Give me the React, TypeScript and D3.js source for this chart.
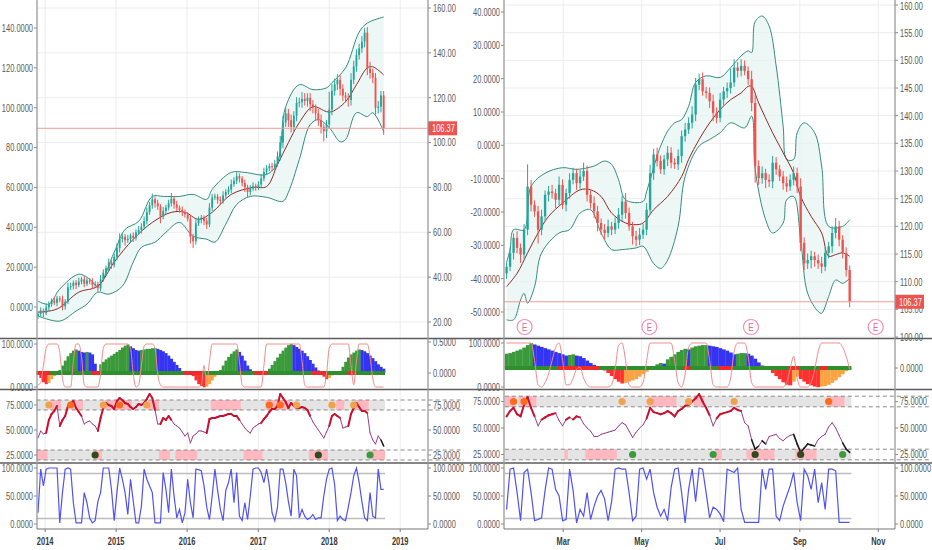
import { useEffect, useRef } from 'react';
import * as d3 from 'd3';

const DAY = 86400000;
const parse = d3.timeParse('%Y-%m-%d');

// ---------------- left chart: two-week candles, Nov 2013 - Oct 2018 ----------------
const leftDomain = ['2013-11-20', '2019-05-24'];
const leftStart = '2013-11-25';
const leftStepDays = 14;
const leftYears = ['2014-01-01', '2015-01-01', '2016-01-01', '2017-01-01', '2018-01-01', '2019-01-01'];
const leftOpen0 = 22.8;
const leftClose = [
  23.6, 25, 24, 26.5, 28, 29.5, 28.5, 30.5, 30, 27,
  29, 35.5, 36, 37.5, 36.5, 38, 39, 37, 38.5, 38,
  36.5, 37, 35, 39, 42, 44, 46.5, 45.5, 49, 53,
  57, 58, 56.5, 57, 58.5, 57.5, 60, 61, 62.5, 65,
  69, 72, 74.7, 73, 71.5, 67, 69.5, 71, 73, 75,
  72.5, 71, 70, 69, 68, 66, 58, 56, 64, 65.5,
  66.5, 65, 63.5, 71, 75.5, 76, 74.5, 74, 76.5, 78,
  79, 81.5, 83, 85, 84, 82, 80, 78, 79.5, 80.5,
  80, 81.3, 84, 87, 88.5, 89.5, 89, 90.5, 94, 100,
  109, 113, 110, 107, 112, 117.7, 118, 119.5, 118.5, 120,
  117, 115.5, 113, 110, 107, 105, 108, 114.7, 123, 126,
  128, 124, 121, 120, 119, 128, 134, 139, 142, 145,
  149, 133, 131, 129, 115.5, 116, 121, 106.37,
];
const leftHiWick = [
  1.2, 1.5, 1, 1.8, 1.2, 1, 1.5, 1.2, 1, 1.8,
  1.2, 2, 1.5, 1, 1.2, 1.8, 1, 1.5, 1.2, 1,
  1.5, 1.2, 1, 2, 1.5, 1.2, 1.8, 1, 1.5, 2,
  2.5, 1.5, 1.2, 1.8, 1, 1.5, 1.2, 1.8, 1.5, 2,
  2, 1.5, 2.5, 1.2, 1.5, 1, 1.8, 1.2, 1.5, 2.5,
  1.2, 1.5, 1, 1.5, 1.2, 1, 1.5, 1.2, 1.8, 1.5,
  1.2, 1, 1.5, 2, 1.5, 1.2, 1, 1.5, 1.8, 1.2,
  1.5, 2, 1.5, 1.8, 1.2, 1, 1.5, 1.2, 1.5, 1.8,
  1.2, 1.5, 2, 1.8, 1.5, 1.2, 1.5, 1.8, 2, 3,
  3, 2.5, 2, 2.5, 2, 2.5, 2, 3, 2.5, 2,
  2, 2, 1.5, 2, 2.5, 1.5, 2, 8, 3, 2.5,
  2.5, 2, 2, 1.5, 2, 3, 2.5, 2.5, 2, 2.5,
  2, 2.5, 3, 2, 2, 2.5, 2, 2,
];
const leftLoWick = [
  1.5, 1.2, 1.8, 1, 1.5, 1.2, 1, 1.5, 1.2, 1.8,
  1.5, 1, 1.2, 1.5, 1.8, 1, 1.2, 1.5, 1, 1.2,
  1.8, 1, 1.5, 1.2, 1, 1.5, 1.2, 1.8, 1.2, 1.5,
  2, 1.5, 2.5, 1.2, 1.5, 1.8, 1.2, 1, 1.5, 1.2,
  1.5, 1.2, 1.5, 2, 1.5, 3, 1.2, 1.5, 1.2, 1.5,
  2, 1.5, 1.2, 1.8, 1.5, 1.2, 3, 3, 1.5, 1.2,
  1.5, 1.8, 2, 1.2, 1.5, 1.2, 1.8, 1.5, 1.2, 1.5,
  1.2, 1.5, 1.2, 1.5, 1.8, 1.5, 2, 2.5, 1.5, 1.2,
  1.5, 1.2, 1.5, 1.2, 1.5, 1.2, 1.8, 1.5, 1.2, 2,
  2.5, 2, 3, 2.5, 2, 2.5, 2, 2.5, 2, 2.5,
  3, 2.5, 3, 2.5, 3, 4.5, 3, 2, 2.5, 2,
  2.5, 3, 2.5, 2, 3, 2.5, 2, 2.5, 2, 2,
  2.5, 3, 2.5, 2.5, 3, 2.5, 2.5, 3,
];
// bollinger bands as [candle index, price]
const leftUpper = [
  [0, 29.3], [4, 28], [8, 34.7], [15, 41.3], [19, 39.1], [22, 36], [28, 51.1], [32, 61.3],
  [37, 64.9], [42, 76], [46, 76], [52, 76], [57, 76.9], [62, 74.7], [64, 79.1], [71, 86.7],
  [76, 86.7], [84, 85.8], [88, 91.1], [91, 116], [96, 125.8], [101, 123.6], [106, 124.4],
  [108, 126.7], [113, 133.3], [118, 149.3], [121, 153.3], [127, 156],
];
const leftMid = [
  [0, 24.4], [7, 25.8], [15, 33.3], [22, 36], [28, 46.7], [35, 56.9], [42, 64.4], [49, 68.9],
  [54, 68.9], [59, 65.8], [64, 68.9], [71, 76.9], [79, 80], [84, 80.4], [88, 90.2], [92, 100],
  [96, 108.9], [101, 116], [106, 113.8], [108, 113.8], [113, 118.2], [117, 125.8], [121, 133.3],
  [123, 133.8], [127, 130.2],
];
const leftLower = [
  [0, 22.7], [8, 20.4], [14, 24.9], [18, 28], [22, 33.3], [26, 32.4], [31, 36], [35, 46.7],
  [38, 53.3], [43, 55.6], [47, 60], [52, 64.4], [57, 58.2], [62, 56.9], [65, 55.6], [69, 63.6],
  [73, 72.4], [78, 76], [84, 75.6], [90, 73.8], [92, 77.8], [96, 92.4], [100, 108], [103, 110.2],
  [107, 106.7], [111, 100.4], [113, 101.3], [117, 113.3], [121, 111.6], [123, 113.3], [127, 104.9],
];
const leftHist = [
  -0.02, -0.08, -0.15, -0.18, -0.16, -0.1, -0.05, 0, 0.05, 0.12,
  0.2, 0.27, 0.32, 0.36, 0.38, 0.36, 0.34, 0.33, 0.34, 0.33,
  0.3, 0.15, -0.02, 0.14, 0.18, 0.22, 0.25, 0.28, 0.31, 0.34,
  0.37, 0.41, 0.44, 0.46, 0.43, 0.4, 0.37, 0.36, 0.37, 0.38,
  0.39, 0.39, 0.4, 0.4, 0.39, 0.37, 0.35, 0.32, 0.28, 0.23,
  0.18, 0.13, 0.08, 0.03, -0.02, -0.03, -0.03, -0.05, -0.12, -0.18,
  -0.21, -0.23, -0.22, -0.18, -0.12, -0.06, -0.02, 0.05, 0.12, 0.2,
  0.26, 0.31, 0.35, 0.38, 0.34, 0.28, 0.2, 0.12, 0.06, 0.02,
  -0.02, -0.03, -0.03, -0.02, 0.03, 0.07, 0.13, 0.19, 0.25, 0.31,
  0.36, 0.41, 0.45, 0.47, 0.45, 0.42, 0.39, 0.36, 0.32, 0.27,
  0.21, 0.15, 0.09, 0.04, -0.02, -0.06, -0.1, -0.08, -0.04, -0.02,
  -0.02, 0.03, 0.1, 0.18, 0.25, 0.3, 0.33, 0.36, 0.38, 0.37,
  0.35, 0.32, 0.28, 0.24, 0.19, 0.14, 0.1, 0.07,
];
const leftOsc = [
  5, 10, 50, 90, 100, 100, 100, 100, 80, 20,
  0, 0, 0, 60, 100, 100, 70, 5, 0, 0,
  0, 0, 0, 30, 90, 100, 100, 100, 100, 100,
  100, 100, 100, 100, 90, 30, 0, 5, 50, 95,
  100, 100, 100, 90, 30, 5, 0, 0, 0, 0,
  0, 0, 0, 0, 0, 0, 0, 0, 0, 0,
  5, 50, 10, 60, 100, 100, 100, 100, 100, 100,
  100, 100, 100, 100, 60, 5, 0, 0, 0, 0,
  0, 0, 0, 50, 100, 100, 100, 100, 100, 100,
  100, 100, 100, 100, 100, 100, 100, 60, 5, 0,
  0, 0, 0, 0, 0, 0, 30, 90, 100, 100,
  100, 100, 100, 100, 100, 50, 5, 60, 100, 100,
  100, 100, 70, 20, 0, 0, 0, 0,
];
const leftSqueeze = [[0, 4], [20, 22], [54, 60], [80, 84], [101, 105], [114, 116]];
const leftRsi = [
  42, 49, 46, 47, 60, 66, 69, 74, 54, 60,
  64, 74, 77, 79, 72, 68, 64, 56, 58, 59,
  56, 54, 49, 62, 72, 77, 75, 74, 71, 79,
  82, 80, 77, 76, 73, 71, 73, 76, 75, 77,
  81, 86, 82, 70, 56, 56, 62, 60, 64, 60,
  56, 54, 52, 48, 44, 47, 37, 44, 46, 49,
  49, 48, 47, 61, 62, 62, 63, 64, 64, 65,
  66, 66, 64, 64, 60, 56, 52, 49, 47, 52,
  54, 56, 57, 61, 64, 68, 71, 71, 74, 86,
  82, 78, 72, 77, 74, 72, 72, 73, 72, 70,
  64, 58, 54, 50, 46, 42, 48, 54, 64, 66,
  64, 62, 52, 53, 54, 66, 72, 77, 73, 69,
  69, 67, 47, 40, 36, 44, 40, 34,
];
const leftRsiHigh = [[5, 8], [13, 16], [25, 34], [41, 44], [64, 74], [84, 92], [110, 112], [117, 121]];
const leftRsiLow = [[0, 3], [21, 23], [45, 48], [51, 58], [76, 82], [100, 106], [123, 127]];
const leftDotsHigh: [number, string][] = [[4, 'o'], [12, 'O'], [24, 'o'], [30, 'O'], [40, 'o'], [85, 'O'], [89, 'O'], [95, 'o'], [108, 'o'], [116, 'o']];
const leftDotsLow: [number, string][] = [[21, 'G'], [103, 'G'], [122, 'g']];
const leftStoch = [
  20, 98, 68, 98, 100, 100, 100, 100, 2, 56,
  98, 100, 98, 38, 2, 2, 2, 56, 38, 10,
  2, 6, 40, 56, 100, 100, 100, 62, 6, 56,
  100, 80, 56, 17, 80, 41, 2, 2, 32, 98,
  80, 68, 56, 2, 2, 2, 92, 62, 20, 98,
  50, 11, 26, 2, 20, 80, 38, 11, 98, 97,
  95, 68, 30, 8, 50, 98, 60, 26, 6, 60,
  74, 98, 38, 92, 14, 6, 38, 8, 50, 98,
  100, 100, 92, 74, 98, 68, 20, 6, 30, 98,
  98, 74, 40, 14, 98, 86, 11, 26, 14, 8,
  11, 17, 8, 11, 11, 50, 80, 98, 100, 70,
  6, 14, 8, 6, 30, 56, 86, 100, 74, 40,
  11, 6, 56, 14, 11, 98, 62, 62,
];
const leftPriceTicks = [20, 40, 60, 80, 100, 120, 140, 160];
const leftBaseTicks = [0, 20, 40, 60, 80, 100, 120, 140];

// ---------------- right chart: Jan - Oct 2018 ----------------
const rightDomain = ['2018-01-14', '2018-11-14'];
const rightStart = '2018-01-16';
const rightStepDays = 2.722;
const rightMonths = ['2018-03-01', '2018-05-01', '2018-07-01', '2018-09-01', '2018-11-01'];
const rightEarnings = ['2018-01-30', '2018-05-07', '2018-07-25', '2018-10-30'];
const rightOpen0 = 111.5;
const rightClose = [
  112.7, 115.2, 117.9, 116.1, 114.9, 119.4, 127.2, 123.9, 122.7, 119.4,
  121.8, 125.7, 126.3, 126, 124.8, 127.5, 123.9, 126, 128.4, 129.6,
  127.8, 129, 130, 125.7, 124.2, 122.7, 120.6, 119.4, 118.8, 120,
  119.4, 120.6, 122.1, 124.5, 122.4, 120, 118.2, 117.6, 118.5, 119.4,
  123, 129.6, 133, 131.8, 130.3, 132.1, 133.3, 131.5, 131.2, 132.7,
  136.3, 137.5, 138.7, 140.2, 145.6, 146.6, 144.4, 144.1, 142.6, 140.5,
  139.6, 142.9, 144.4, 145, 146, 148.7, 148.1, 149, 148.1, 146.6,
  142.3, 130.9, 128.7, 129.6, 128.4, 128.1, 131.5, 130.3, 129, 127.8,
  127.2, 128.4, 129.6, 127.2, 117, 113.3, 113.9, 114.6, 113.9, 113.3,
  112.7, 115.2, 116.4, 118.8, 120, 117.6, 115.2, 112.1, 106.37,
];
const rightHiWick = [
  0.8, 1, 0.8, 1.2, 0.8, 1, 4, 1.2, 0.8, 1,
  1.2, 0.8, 1, 1.2, 0.8, 1.5, 1, 0.8, 1.2, 1,
  0.8, 1.2, 1.5, 1, 0.8, 1.2, 1, 0.8, 1, 1.2,
  0.8, 1, 1.2, 1, 1.5, 1, 0.8, 1, 1.2, 1,
  1.2, 1.5, 1, 1.2, 1, 0.8, 1.2, 1, 0.8, 1.2,
  1, 1.2, 1, 1.5, 1.2, 1, 1.2, 0.8, 1, 1.2,
  1, 1.2, 0.8, 1, 2.5, 1.5, 1, 1.2, 1, 0.8,
  1.5, 1.5, 1, 1.2, 0.8, 1, 1.2, 1, 0.8, 1,
  1.2, 1, 1.2, 1, 1.5, 1, 1.2, 1, 0.8, 1,
  1.2, 1, 0.8, 1.2, 1.5, 1, 0.8, 1, 0.8,
];
const rightLoWick = [
  1, 0.8, 1.2, 1, 1.5, 0.8, 1, 1.2, 1, 2.5,
  1, 0.8, 1.2, 1, 1.5, 1, 0.8, 1.2, 1, 0.8,
  1.2, 1, 0.8, 1.2, 1, 1.2, 1.5, 1, 1.2, 0.8,
  1, 0.8, 1, 1.2, 1, 0.8, 1.5, 1.2, 1, 0.8,
  1, 0.8, 1.2, 1, 0.8, 1, 1.2, 1, 0.8, 1,
  1.2, 1, 0.8, 1, 1.2, 1, 0.8, 1, 1.2, 1.5,
  1, 0.8, 1, 1.2, 1, 0.8, 1.2, 1, 0.8, 1,
  1.5, 3, 1.2, 1, 1.5, 1, 1.2, 1, 0.8, 1.2,
  1, 0.8, 1, 1.2, 1.5, 1.2, 1, 1.5, 1.2, 1,
  1.2, 0.8, 1, 1.2, 1, 1.2, 1, 1.2, 1,
];
const rightUpper = [
  [0, 113.5], [1, 115.8], [2, 119.4], [5, 119.4], [7, 127.2], [11, 129.6], [16, 130.6], [20, 130.3],
  [25, 130.9], [28, 131.8], [30, 131.2], [32, 128.4], [34, 124.8], [39, 124.5], [40, 126.3],
  [43, 132.7], [44, 134.5], [46, 137.2], [48, 138.7], [50, 139.3], [52, 141.7], [54, 146],
  [57, 147.2], [61, 146.9], [64, 148.7], [67, 150.8], [69, 151.7], [70, 151.4], [71, 157],
  [73, 158], [75, 156.2], [77, 149], [79, 138.1], [80, 132.1], [82, 132.1], [83, 136.9],
  [85, 138.7], [88, 136.9], [90, 130.9], [92, 120], [96, 120], [98, 121.2],
];
const rightMid = [
  [0, 109.1], [3, 111.5], [6, 115.2], [9, 118.8], [12, 121.8], [16, 124.2], [21, 126.6], [24, 126.6],
  [27, 125.4], [30, 122.4], [34, 120.6], [37, 120.3], [39, 120.6], [42, 123], [46, 125.4], [50, 129],
  [52, 132.1], [55, 135.7], [58, 138.7], [61, 141.1], [64, 142.9], [67, 144.1], [69, 145.3],
  [70, 145.3], [72, 142.3], [76, 136.9], [79, 133.3], [82, 129.6], [84, 125.4], [87, 121.8],
  [90, 118.8], [92, 114.6], [94, 114.9], [96, 115.2], [98, 114.6],
];
const rightLower = [
  [0, 103.1], [2, 103.1], [4, 106.7], [5, 107.9], [6, 106.1], [8, 109.1], [10, 115.2], [15, 118.8],
  [18, 119.4], [21, 122.4], [24, 123], [27, 118.8], [30, 115.8], [33, 115.8], [37, 116.1],
  [39, 116.4], [42, 113.3], [44, 112.4], [46, 113.9], [49, 120], [51, 129], [55, 134.5],
  [58, 135.7], [61, 136.9], [64, 138.7], [68, 137.8], [70, 139.9], [71, 130.3], [74, 121.2],
  [76, 118.8], [79, 120.6], [80, 124.8], [82, 125.4], [84, 117.6], [86, 107.9], [89, 104.6],
  [90, 104.3], [92, 107.3], [94, 110.3], [96, 109.7], [98, 110.6],
];
const rightHist = [
  0.23, 0.24, 0.26, 0.28, 0.3, 0.33, 0.37, 0.4, 0.38, 0.36,
  0.34, 0.32, 0.3, 0.28, 0.26, 0.24, 0.22, 0.2, 0.21, 0.22,
  0.2, 0.19, 0.16, 0.12, 0.08, 0.05, 0.02, -0.01, -0.04, -0.08,
  -0.13, -0.18, -0.22, -0.25, -0.24, -0.22, -0.2, -0.18, -0.14, -0.1,
  -0.06, -0.02, 0.03, 0.06, 0.08, 0.07, 0.14, 0.18, 0.22, 0.26,
  0.29, 0.31, 0.3, 0.33, 0.35, 0.36, 0.37, 0.37, 0.36, 0.35,
  0.34, 0.32, 0.3, 0.28, 0.25, 0.22, 0.23, 0.24, 0.24, 0.23,
  0.2, 0.15, 0.09, 0.04, 0.01, -0.03, -0.08, -0.13, -0.18, -0.23,
  -0.27, -0.28, -0.22, -0.14, -0.18, -0.22, -0.26, -0.28, -0.3, -0.31,
  -0.3, -0.29, -0.27, -0.24, -0.2, -0.15, -0.1, -0.05, -0.01,
];
const rightOsc = [
  100, 100, 100, 100, 100, 100, 100, 100, 60, 5,
  0, 10, 30, 60, 90, 100, 60, 5, 5, 20,
  40, 45, 20, 5, 0, 0, 0, 0, 0, 0,
  5, 40, 95, 100, 60, 5, 0, 0, 0, 10,
  60, 100, 100, 100, 100, 100, 100, 100, 60, 10,
  0, 30, 90, 100, 100, 100, 100, 100, 60, 5,
  0, 0, 0, 0, 20, 80, 100, 100, 100, 70,
  10, 0, 0, 0, 0, 0, 0, 0, 0, 0,
  10, 40, 70, 20, 0, 0, 0, 10, 40, 80,
  100, 100, 100, 100, 100, 100, 90, 70, 40,
];
const rightSqueeze = [[15, 26], [51, 52], [61, 64], [81, 83], [90, 91]];
const rightRsi = [
  61, 66, 69, 63, 61, 72, 79, 69, 61, 52,
  58, 60, 62, 63, 64, 57, 52, 58, 60, 58,
  61, 60, 54, 50, 47, 42, 42, 44, 45, 46,
  47, 48, 52, 55, 53, 47, 41, 46, 50, 53,
  59, 69, 65, 64, 63, 64, 66, 64, 61, 66,
  68, 71, 72, 75, 78, 82, 75, 69, 62, 52,
  59, 63, 64, 65, 66, 69, 67, 66, 55, 52,
  39, 30, 33, 38, 35, 42, 43, 44, 40, 38,
  41, 43, 44, 35, 27, 31, 35, 34, 33, 39,
  42, 44, 51, 55, 50, 43, 36, 30, 27,
];
const rightRsiHigh = [[0, 2], [4, 8], [41, 48], [54, 56], [92, 96]];
const rightRsiLow = [[17, 17], [23, 31], [60, 61], [69, 76], [83, 88]];
const rightDotsHigh: [number, string][] = [[2, 'O'], [5, 'O'], [33, 'o'], [41, 'o'], [52, 'o'], [65, 'o'], [92, 'O']];
const rightDotsLow: [number, string][] = [[36, 'g'], [59, 'g'], [71, 'G'], [84, 'G'], [96, 'g']];
const rightStoch = [
  26, 98, 100, 56, 6, 92, 98, 56, 6, 8,
  11, 60, 100, 98, 62, 50, 6, 8, 98, 60,
  2, 26, 14, 56, 8, 32, 50, 60, 45, 6,
  40, 98, 100, 98, 98, 56, 6, 14, 98, 100,
  80, 98, 56, 30, 14, 26, 6, 65, 98, 100,
  56, 2, 62, 98, 40, 100, 98, 56, 11, 30,
  26, 18, 4, 98, 95, 92, 100, 26, 3, 3,
  3, 3, 3, 98, 62, 98, 98, 14, 6, 32,
  50, 68, 92, 38, 6, 98, 86, 62, 98, 38,
  74, 26, 98, 98, 95, 3, 3, 3, 3,
];
const rightPriceTicks = [100, 105, 110, 115, 120, 125, 130, 135, 140, 145, 150, 155, 160];
const rightBaseTicks = [-50, -40, -30, -20, -10, 0, 10, 20, 30, 40];

// ---------------- drawing ----------------
const UP = '#26a69a';
const DOWN = '#ef5350';
const BAND = '#348d7c';
const MAIN_B = 338.5;
const HIST_B = 389.5;
const RSI_B = 463;
const AXIS_Y = 529;

interface Side {
  id: string;
  outer: [number, number];
  plot: [number, number];
  domain: string[];
  start: string;
  step: number;
  timeTicks: string[];
  timeFmt: string;
  open0: number;
  close: number[];
  hiWick: number[];
  loWick: number[];
  upper: number[][];
  mid: number[][];
  lower: number[][];
  price: [number, number, number, number];
  priceTicks: number[];
  base: [number, number, number, number];
  baseTicks: number[];
  hist: number[];
  histZero: number;
  histRightTicks: number[];
  osc: number[];
  oscY: [number, number];
  squeeze: number[][];
  rsi: number[];
  rsiY: [number, number];
  rsiHigh: number[][];
  rsiLow: number[][];
  dotsHigh: [number, string][];
  dotsLow: [number, string][];
  stoch: number[];
  earnings?: string[];
}

const dotColor: Record<string, string> = { o: '#f2a24a', O: '#ff6b1a', g: '#3c9a3c', G: '#2f4a1c' };

function label(g: any, x: number, y: number, txt: string, anchor = 'start', opts: any = {}) {
  g.append('text')
    .attr('transform', `translate(${x},${y}) scale(0.68,1)`)
    .attr('dy', '0.35em')
    .attr('text-anchor', anchor)
    .attr('font-size', opts.size ?? 11)
    .attr('font-weight', opts.weight ?? 'normal')
    .attr('fill', opts.fill ?? '#5a5a5a')
    .text(txt);
}

function drawSide(svg: any, s: Side) {
  const g = svg.append('g');
  const [ox0, ox1] = s.outer;
  const [px0, px1] = s.plot;
  const x = d3.scaleTime().domain(s.domain.map((d) => parse(d)!)).range([px0, px1]);
  const t0 = parse(s.start)!.getTime();
  const n = s.close.length;
  const xs = d3.range(n).map((i) => x(new Date(t0 + i * s.step * DAY)));
  const sp = xs[1] - xs[0];
  const xFirst = xs[0] - sp / 2;
  const xLast = xs[n - 1] + sp / 2;
  const ticks = s.timeTicks.map((d) => parse(d)!);

  // vertical grid through all panels
  g.selectAll('.vgrid').data(ticks).join('line')
    .attr('x1', (d: Date) => x(d)).attr('x2', (d: Date) => x(d))
    .attr('y1', 0).attr('y2', AXIS_Y)
    .attr('stroke', '#ececec');

  // ---------- main price panel ----------
  const yP = d3.scaleLinear().domain([s.price[0], s.price[1]]).range([s.price[2], s.price[3]]);
  const yB = d3.scaleLinear().domain([s.base[0], s.base[1]]).range([s.base[2], s.base[3]]);
  const clipId = `clip-${s.id}`;
  g.append('clipPath').attr('id', clipId).append('rect')
    .attr('x', px0).attr('y', 0).attr('width', px1 - px0).attr('height', MAIN_B);
  const main = g.append('g').attr('clip-path', `url(#${clipId})`);

  main.selectAll('.hgrid').data(s.priceTicks).join('line')
    .attr('x1', px0).attr('x2', px1)
    .attr('y1', (d: number) => yP(d)).attr('y2', (d: number) => yP(d))
    .attr('stroke', '#ececec');

  const bandLine = d3.line<number[]>()
    .x((d) => xs[d[0]])
    .y((d) => yP(d[1]))
    .curve(d3.curveCatmullRom.alpha(0.5));
  const up = bandLine(s.upper)!;
  const lo = bandLine([...s.lower].reverse())!;
  main.append('path').attr('d', `${up}L${lo.slice(1)}Z`).attr('fill', '#e6f4f1').attr('opacity', 0.7);
  main.append('path').attr('d', up).attr('fill', 'none').attr('stroke', BAND).attr('stroke-width', 1);
  main.append('path').attr('d', bandLine(s.lower)!).attr('fill', 'none').attr('stroke', BAND).attr('stroke-width', 1);
  main.append('path').attr('d', bandLine(s.mid)!).attr('fill', 'none').attr('stroke', '#8e2a2a').attr('stroke-width', 1);

  const candles = s.close.map((c, i) => {
    const o = i === 0 ? s.open0 : s.close[i - 1];
    return { i, o, c, h: Math.max(o, c) + s.hiWick[i], l: Math.min(o, c) - s.loWick[i] };
  });
  const bw = Math.max(1.4, sp * 0.68);
  main.selectAll('.wick').data(candles).join('line')
    .attr('x1', (d: any) => xs[d.i]).attr('x2', (d: any) => xs[d.i])
    .attr('y1', (d: any) => yP(d.h)).attr('y2', (d: any) => yP(d.l))
    .attr('stroke', (d: any) => (d.c >= d.o ? UP : DOWN)).attr('stroke-width', 1);
  main.selectAll('.body').data(candles).join('rect')
    .attr('x', (d: any) => xs[d.i] - bw / 2).attr('width', bw)
    .attr('y', (d: any) => yP(Math.max(d.o, d.c)))
    .attr('height', (d: any) => Math.max(1, Math.abs(yP(d.o) - yP(d.c))))
    .attr('fill', (d: any) => (d.c >= d.o ? UP : DOWN));

  const last = s.close[n - 1];
  main.append('line').attr('x1', px0).attr('x2', px1).attr('y1', yP(last)).attr('y2', yP(last))
    .attr('stroke', '#f19a99').attr('stroke-width', 1);

  if (s.earnings) {
    const eg = main.selectAll('.earn').data(s.earnings.map((d) => parse(d)!)).join('g')
      .attr('transform', (d: Date) => `translate(${x(d)},327)`);
    eg.append('circle').attr('r', 7.5).attr('fill', '#fff').attr('fill-opacity', 0.6)
      .attr('stroke', '#f48fb1').attr('stroke-width', 1.2);
    eg.append('text').attr('text-anchor', 'middle').attr('dy', '0.36em').attr('font-size', 10)
      .attr('fill', '#f06292').attr('transform', 'scale(0.8,1)').text('E');
  }

  // main axes labels
  s.baseTicks.forEach((t) => {
    g.append('line').attr('x1', px0 - 3).attr('x2', px0).attr('y1', yB(t)).attr('y2', yB(t)).attr('stroke', '#888');
    label(g, px0 - 4, yB(t), t.toFixed(4), 'end');
  });
  s.priceTicks.forEach((t) => {
    g.append('line').attr('x1', px1).attr('x2', px1 + 3).attr('y1', yP(t)).attr('y2', yP(t)).attr('stroke', '#888');
    label(g, px1 + 5, Math.max(6, yP(t)), t.toFixed(2), 'start');
  });
  g.append('rect').attr('x', px1).attr('y', yP(last) - 7).attr('width', 29).attr('height', 14).attr('fill', '#ef5350');
  label(g, px1 + 4, yP(last), last.toFixed(2), 'start', { fill: '#fff' });

  // ---------- histogram / oscillator panel ----------
  const histPx = 62;
  const yH = (v: number) => s.histZero - v * histPx;
  const hb = s.hist.map((v, i) => {
    const prev = i === 0 ? v : s.hist[i - 1];
    const col = v >= 0 ? (v >= prev ? '#3a9a3a' : '#3434f2') : (v < prev ? '#ff3030' : '#f9a443');
    return { i, v, col };
  });
  g.selectAll('.hbar').data(hb).join('rect')
    .attr('x', (d: any) => xs[d.i] - sp / 2).attr('width', sp + 0.3)
    .attr('y', (d: any) => Math.min(yH(d.v), s.histZero))
    .attr('height', (d: any) => Math.abs(yH(d.v) - s.histZero))
    .attr('fill', (d: any) => d.col);
  g.append('line').attr('x1', xFirst).attr('x2', xLast).attr('y1', s.histZero).attr('y2', s.histZero)
    .attr('stroke', '#2f8f2f').attr('stroke-width', 4);
  s.squeeze.forEach(([a, b]) => {
    g.append('line').attr('x1', xs[a] - sp / 2).attr('x2', xs[b] + sp / 2)
      .attr('y1', s.histZero).attr('y2', s.histZero).attr('stroke', '#ee2a2a').attr('stroke-width', 4);
  });
  const yO = d3.scaleLinear().domain([0, 100]).range(s.oscY);
  const oscLine = d3.line<number>().x((_, i) => xs[i]).y((d) => yO(d)).curve(d3.curveMonotoneX);
  g.append('path').attr('d', oscLine(s.osc)!).attr('fill', 'none').attr('stroke', '#f28b8b').attr('stroke-width', 1);
  [100, 0].forEach((t) => {
    g.append('line').attr('x1', px0 - 3).attr('x2', px0).attr('y1', yO(t)).attr('y2', yO(t)).attr('stroke', '#888');
    label(g, px0 - 4, yO(t), t.toFixed(4), 'end');
  });
  s.histRightTicks.forEach((t) => {
    g.append('line').attr('x1', px1).attr('x2', px1 + 3).attr('y1', yH(t)).attr('y2', yH(t)).attr('stroke', '#888');
    label(g, px1 + 5, yH(t), t.toFixed(4), 'start');
  });

  // ---------- RSI panel ----------
  const yR = d3.scaleLinear().domain([25, 75]).range(s.rsiY);
  [[70, 80], [20, 30]].forEach(([a, b]) => {
    g.append('rect').attr('x', xFirst).attr('width', xLast - xFirst)
      .attr('y', yR(b)).attr('height', yR(a) - yR(b)).attr('fill', '#e4e4e4');
  });
  const zoneRects = [
    ...s.rsiHigh.map(([a, b]) => ({ a, b, lo: 70, hi: 80 })),
    ...s.rsiLow.map(([a, b]) => ({ a, b, lo: 20, hi: 30 })),
  ];
  g.selectAll('.zone').data(zoneRects).join('rect')
    .attr('x', (d: any) => xs[d.a] - sp / 2).attr('width', (d: any) => xs[d.b] - xs[d.a] + sp)
    .attr('y', (d: any) => yR(d.hi)).attr('height', (d: any) => yR(d.lo) - yR(d.hi))
    .attr('fill', '#ffb7c0');
  [80, 70, 30, 20].forEach((t) => {
    g.append('line').attr('x1', xFirst).attr('x2', ox1 - 2).attr('y1', yR(t)).attr('y2', yR(t))
      .attr('stroke', '#8a8a8a').attr('stroke-dasharray', '4,3').attr('stroke-width', 1);
  });
  for (let i = 1; i < n; i++) {
    const v = s.rsi[i];
    const col = v >= 60 ? '#c8102e' : v <= 35 ? '#1d1d1d' : '#9a3f8e';
    const w = v >= 60 ? 2 : v <= 35 ? 1.6 : 1;
    g.append('line').attr('x1', xs[i - 1]).attr('x2', xs[i])
      .attr('y1', yR(s.rsi[i - 1])).attr('y2', yR(v))
      .attr('stroke', col).attr('stroke-width', w).attr('stroke-linecap', 'round');
  }
  const dots = [
    ...s.dotsHigh.map(([i, k]) => ({ i, k, v: 75 })),
    ...s.dotsLow.map(([i, k]) => ({ i, k, v: 25 })),
  ];
  g.selectAll('.dot').data(dots).join('circle')
    .attr('cx', (d: any) => xs[d.i]).attr('cy', (d: any) => yR(d.v)).attr('r', 3.6)
    .attr('fill', (d: any) => dotColor[d.k]);
  [75, 50, 25].forEach((t) => {
    g.append('line').attr('x1', px0 - 3).attr('x2', px0).attr('y1', yR(t)).attr('y2', yR(t)).attr('stroke', '#888');
    label(g, px0 - 4, yR(t), t.toFixed(4), 'end');
    g.append('line').attr('x1', px1).attr('x2', px1 + 3).attr('y1', yR(t)).attr('y2', yR(t)).attr('stroke', '#888');
    label(g, px1 + 5, yR(t), t.toFixed(4), 'start');
  });

  // ---------- stochastic panel ----------
  const yS = d3.scaleLinear().domain([0, 100]).range([524, 468]);
  [90, 10].forEach((t) => {
    g.append('line').attr('x1', xFirst).attr('x2', xLast).attr('y1', yS(t)).attr('y2', yS(t))
      .attr('stroke', '#bdbdbd').attr('stroke-width', 1.5);
  });
  const sLine = d3.line<number>().x((_, i) => xs[i]).y((d) => yS(d));
  g.append('path').attr('d', sLine(s.stoch)!).attr('fill', 'none').attr('stroke', '#5252f0').attr('stroke-width', 1.2);
  [100, 50, 0].forEach((t) => {
    g.append('line').attr('x1', px0 - 3).attr('x2', px0).attr('y1', yS(t)).attr('y2', yS(t)).attr('stroke', '#888');
    label(g, px0 - 4, yS(t), t.toFixed(4), 'end');
    g.append('line').attr('x1', px1).attr('x2', px1 + 3).attr('y1', yS(t)).attr('y2', yS(t)).attr('stroke', '#888');
    label(g, px1 + 5, yS(t), t.toFixed(4), 'start');
  });

  // ---------- frame ----------
  [MAIN_B, HIST_B, RSI_B].forEach((y) => {
    g.append('line').attr('x1', ox0).attr('x2', ox1).attr('y1', y).attr('y2', y)
      .attr('stroke', '#5c5c5c').attr('stroke-width', 1.3);
  });
  [px0, px1].forEach((xx) => {
    g.append('line').attr('x1', xx).attr('x2', xx).attr('y1', 0).attr('y2', AXIS_Y)
      .attr('stroke', '#9a9a9a').attr('stroke-width', 1.3);
  });
  g.append('line').attr('x1', px0).attr('x2', px1).attr('y1', AXIS_Y).attr('y2', AXIS_Y)
    .attr('stroke', '#777').attr('stroke-width', 1.2);
  const fmt = d3.timeFormat(s.timeFmt);
  ticks.forEach((d) => {
    g.append('line').attr('x1', x(d)).attr('x2', x(d)).attr('y1', AXIS_Y).attr('y2', AXIS_Y + 3).attr('stroke', '#777');
    label(g, x(d), 541, fmt(d), 'middle', { weight: 'bold', fill: '#3a3a3a' });
  });
}

const leftSide: Side = {
  id: 'l', outer: [0, 466], plot: [37, 428], domain: leftDomain, start: leftStart, step: leftStepDays,
  timeTicks: leftYears, timeFmt: '%Y', open0: leftOpen0, close: leftClose, hiWick: leftHiWick, loWick: leftLoWick,
  upper: leftUpper, mid: leftMid, lower: leftLower,
  price: [20, 160, 322, 8], priceTicks: leftPriceTicks, base: [0, 140, 307, 28], baseTicks: leftBaseTicks,
  hist: leftHist, histZero: 373, histRightTicks: [0.5, 0], osc: leftOsc, oscY: [387, 344], squeeze: leftSqueeze,
  rsi: leftRsi, rsiY: [455, 405], rsiHigh: leftRsiHigh, rsiLow: leftRsiLow, dotsHigh: leftDotsHigh, dotsLow: leftDotsLow,
  stoch: leftStoch,
};

const rightSide: Side = {
  id: 'r', outer: [466, 932], plot: [504, 895], domain: rightDomain, start: rightStart, step: rightStepDays,
  timeTicks: rightMonths, timeFmt: '%b', open0: rightOpen0, close: rightClose, hiWick: rightHiWick, loWick: rightLoWick,
  upper: rightUpper, mid: rightMid, lower: rightLower,
  price: [100, 160, 337, 5], priceTicks: rightPriceTicks, base: [-50, 40, 312, 12], baseTicks: rightBaseTicks,
  hist: rightHist, histZero: 368, histRightTicks: [0], osc: rightOsc, oscY: [387, 343], squeeze: rightSqueeze,
  rsi: rightRsi, rsiY: [454.5, 401.5], rsiHigh: rightRsiHigh, rsiLow: rightRsiLow, dotsHigh: rightDotsHigh, dotsLow: rightDotsLow,
  stoch: rightStoch, earnings: rightEarnings,
};

export default function App() {
  const svgRef = useRef<SVGSVGElement>(null);

  useEffect(() => {
    if (!svgRef.current) return;
    const svg = d3.select(svgRef.current);
    svg.selectAll('*').remove();
    svg.append('rect').attr('width', 932).attr('height', 550).attr('fill', '#fff');
    drawSide(svg, leftSide);
    drawSide(svg, rightSide);
  }, []);

  return (
    <div style={{ position: 'absolute', left: 0, top: 0 }}>
      <svg
        ref={svgRef}
        width={932}
        height={550}
        style={{ display: 'block', fontFamily: '"Liberation Sans", Arial, sans-serif' }}
      />
    </div>
  );
}
